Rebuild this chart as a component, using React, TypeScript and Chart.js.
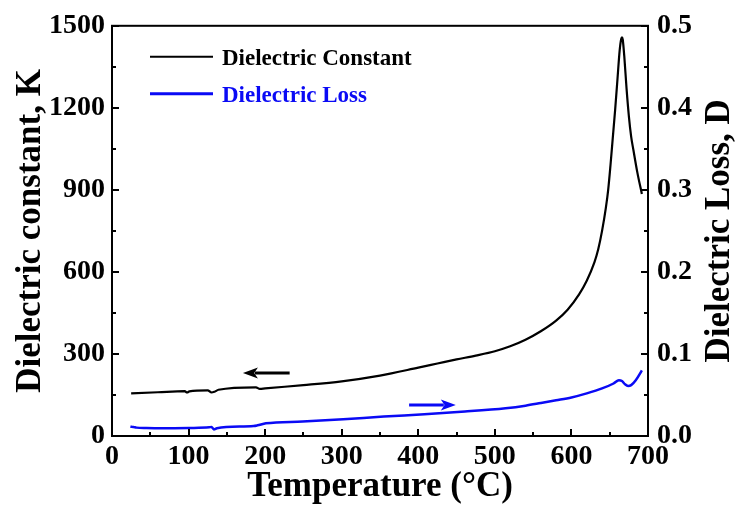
import React, { useEffect, useRef } from "react";
import { Chart, registerables } from "chart.js";

Chart.register(...registerables);

// Dielectric constant K (left axis) vs temperature (°C)
const constT = [25, 60, 95, 98, 101, 125, 130, 134, 139, 188, 193, 200, 250, 300, 350, 400, 425, 450, 475, 500, 520, 540, 560, 580, 595, 610, 620, 630, 635, 640, 645, 648, 651, 654, 657, 660, 663, 665, 666, 667, 669, 672, 675, 678, 681, 686, 692];
const constK = [156, 160, 164, 159, 163, 167, 159, 162, 169, 178, 172, 174, 186, 200, 221, 250, 265, 280, 294, 310, 328, 352, 383, 422, 462, 518, 568, 635, 683, 750, 835, 900, 990, 1090, 1190, 1300, 1410, 1452, 1458, 1450, 1390, 1270, 1170, 1095, 1045, 965, 885];

// Dielectric loss D (right axis) vs temperature (°C)
const lossT = [24, 28, 32, 45, 64, 100, 127, 130, 133, 137, 185, 190, 201, 249, 302, 355, 408, 461, 514, 540, 560, 580, 600, 620, 640, 655, 662, 666, 670, 674, 678, 684, 692];
const lossD = [0.0114, 0.011, 0.0102, 0.0097, 0.0094, 0.0098, 0.0106, 0.011, 0.008, 0.0095, 0.0122, 0.013, 0.0155, 0.0176, 0.0204, 0.0237, 0.0265, 0.0298, 0.0339, 0.037, 0.0402, 0.0435, 0.047, 0.052, 0.058, 0.064, 0.068, 0.067, 0.063, 0.061, 0.062, 0.068, 0.08];

// Arrows (data coordinates): [fromT, toT, value]
const constArrow = [232, 171, 230];
const lossArrow = [388, 449, 0.0377];

const seriesNames = ["Dielectric Constant", "Dielectric Loss"];
const seriesColors = ["#000000", "#0a0af5"];
const xTitle = "Temperature (\u00B0C)";
const yTitle = "Dielectric constant, K";
const y1Title = "Dielectric Loss, D";

const FONT = "'Liberation Serif', 'Times New Roman', serif";

function drawArrow(ctx: CanvasRenderingContext2D, x1: number, x2: number, y: number, color: string) {
  const dir = Math.sign(x2 - x1);
  const head = 15;
  ctx.save();
  ctx.strokeStyle = color;
  ctx.fillStyle = color;
  ctx.lineWidth = 3;
  ctx.beginPath();
  ctx.moveTo(x1, y);
  ctx.lineTo(x2 - dir * head * 0.8, y);
  ctx.stroke();
  ctx.beginPath();
  ctx.moveTo(x2, y);
  ctx.lineTo(x2 - dir * head, y - 5.5);
  ctx.lineTo(x2 - dir * head * 0.75, y);
  ctx.lineTo(x2 - dir * head, y + 5.5);
  ctx.closePath();
  ctx.fill();
  ctx.restore();
}

const framePlugin = {
  id: "frame",
  afterDatasetsDraw(chart: any) {
    const { ctx, chartArea: a, scales } = chart;
    const x = scales.x, y = scales.y, y1 = scales.y1;
    ctx.save();
    ctx.strokeStyle = "#000";
    ctx.lineWidth = 2;
    ctx.strokeRect(a.left, a.top, a.right - a.left, a.bottom - a.top);
    ctx.beginPath();
    for (let v = 0; v <= 700; v += 50) {
      const px = Math.round(x.getPixelForValue(v));
      const len = v % 100 === 0 ? 7 : 4;
      ctx.moveTo(px, a.bottom);
      ctx.lineTo(px, a.bottom - len);
    }
    for (let v = 0; v <= 1500; v += 150) {
      const py = Math.round(y.getPixelForValue(v));
      const len = v % 300 === 0 ? 7 : 4;
      ctx.moveTo(a.left, py);
      ctx.lineTo(a.left + len, py);
    }
    for (let i = 0; i <= 10; i++) {
      const py = Math.round(y1.getPixelForValue(i * 0.05));
      const len = i % 2 === 0 ? 7 : 4;
      ctx.moveTo(a.right, py);
      ctx.lineTo(a.right - len, py);
    }
    ctx.stroke();

    drawArrow(ctx, x.getPixelForValue(constArrow[0]), x.getPixelForValue(constArrow[1]), y.getPixelForValue(constArrow[2]), seriesColors[0]);
    drawArrow(ctx, x.getPixelForValue(lossArrow[0]), x.getPixelForValue(lossArrow[1]), y1.getPixelForValue(lossArrow[2]), seriesColors[1]);

    const lx = a.left + 38;
    const rows = [a.top + 31, a.top + 68];
    ctx.font = `bold 23px ${FONT}`;
    ctx.textBaseline = "middle";
    ctx.textAlign = "left";
    seriesNames.forEach((name, i) => {
      ctx.strokeStyle = seriesColors[i];
      ctx.lineWidth = i === 0 ? 2 : 3;
      ctx.beginPath();
      ctx.moveTo(lx, rows[i]);
      ctx.lineTo(lx + 63, rows[i]);
      ctx.stroke();
      ctx.fillStyle = seriesColors[i];
      ctx.fillText(name, lx + 72, rows[i] + 2);
    });

    ctx.save();
    ctx.translate(720, (a.top + a.bottom) / 2);
    ctx.rotate(-Math.PI / 2);
    ctx.font = `bold 35px ${FONT}`;
    ctx.fillStyle = "#000";
    ctx.textAlign = "center";
    ctx.textBaseline = "middle";
    ctx.fillText(y1Title, 0, 0);
    ctx.restore();
    ctx.restore();
  },
};

export default function App() {
  const ref = useRef<HTMLCanvasElement>(null);
  useEffect(() => {
    document.body.style.margin = "0";
    const tickFont = { family: FONT, size: 28, weight: "bold" as const };
    const titleFont = { family: FONT, size: 35, weight: "bold" as const };
    const chart = new Chart(ref.current!, {
      type: "line",
      data: {
        datasets: [
          {
            label: seriesNames[0],
            data: constT.map((t, i) => ({ x: t, y: constK[i] })),
            borderColor: seriesColors[0],
            borderWidth: 2.2,
            pointRadius: 0,
            cubicInterpolationMode: "monotone",
            yAxisID: "y",
          },
          {
            label: seriesNames[1],
            data: lossT.map((t, i) => ({ x: t, y: lossD[i] })),
            borderColor: seriesColors[1],
            borderWidth: 2.5,
            pointRadius: 0,
            cubicInterpolationMode: "monotone",
            yAxisID: "y1",
          },
        ],
      },
      options: {
        animation: false,
        responsive: false,
        maintainAspectRatio: false,
        layout: { padding: { top: 25, left: 0, right: 0, bottom: 0 } },
        plugins: { legend: { display: false }, tooltip: { enabled: false } },
        scales: {
          x: {
            type: "linear",
            min: 0,
            max: 700,
            ticks: { stepSize: 100, color: "#000", font: tickFont, padding: 4, maxRotation: 0, callback: (v: any) => String(v) },
            grid: { display: false, drawTicks: false },
            border: { display: false },
            title: { display: true, text: xTitle, color: "#000", font: titleFont, padding: 0 },
            afterFit: (s: any) => { s.height = 72; },
          },
          y: {
            position: "left",
            min: 0,
            max: 1500,
            ticks: { stepSize: 300, color: "#000", font: tickFont, padding: 7, callback: (v: any) => String(v) },
            grid: { display: false, drawTicks: false },
            border: { display: false },
            title: { display: true, text: yTitle, color: "#000", font: titleFont, padding: { top: 10, bottom: 0 } },
            afterFit: (s: any) => { s.width = 112; },
          },
          y1: {
            position: "right",
            min: 0,
            max: 0.5,
            ticks: { stepSize: 0.1, color: "#000", font: tickFont, padding: 9, callback: (v: any) => Number(v).toFixed(1) },
            grid: { display: false, drawTicks: false },
            border: { display: false },
            title: { display: false },
            afterFit: (s: any) => { s.width = 89; },
          },
        },
      },
      plugins: [framePlugin],
    });
    return () => chart.destroy();
  }, []);
  return <canvas ref={ref} width={737} height={508} style={{ display: "block", width: 737, height: 508 }} />;
}
